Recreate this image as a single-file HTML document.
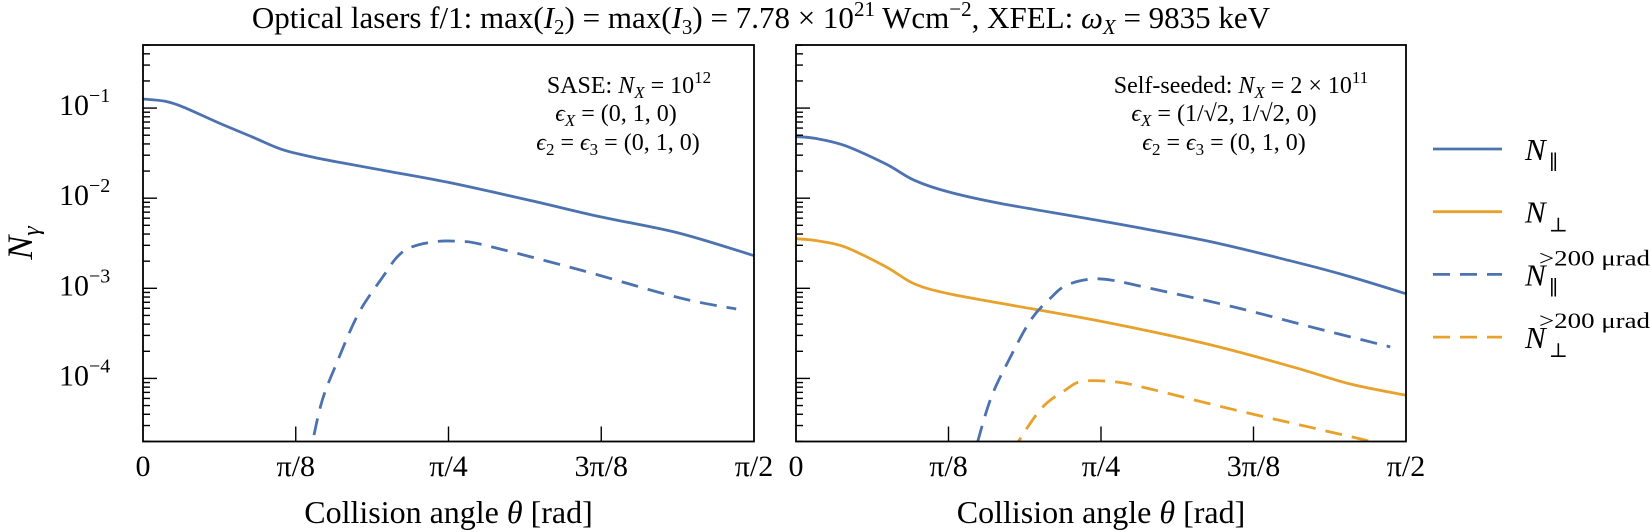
<!DOCTYPE html>
<html><head><meta charset="utf-8"><style>
html,body{margin:0;padding:0;background:#fff}
svg{display:block;font-family:"Liberation Serif","DejaVu Serif",serif}
.it{font-style:italic}
</style></head><body>
<svg id="chart" width="1651" height="532" viewBox="0 0 1651 532" xmlns="http://www.w3.org/2000/svg">
<text x="761" y="28" font-size="31" text-anchor="middle">Optical lasers f/1: max(<tspan class="it">I</tspan><tspan font-size="21" dy="6">2</tspan><tspan dy="-6">) = max(</tspan><tspan class="it">I</tspan><tspan font-size="21" dy="6">3</tspan><tspan dy="-6">) = 7.78 × 10</tspan><tspan font-size="21" dy="-12">21</tspan><tspan dy="12"> Wcm</tspan><tspan font-size="21" dy="-12">−2</tspan><tspan dy="12">, XFEL: </tspan><tspan class="it">ω</tspan><tspan class="it" font-size="21" dy="6">X</tspan><tspan dy="-6"> = 9835 keV</tspan></text>
<text transform="translate(32,243) rotate(-90)" font-size="36" text-anchor="middle"><tspan class="it">N</tspan><tspan class="it" font-size="24" dy="7">γ</tspan></text>
<g id="p1"></g>
<g id="p2"></g>
<g font-size="24" text-anchor="middle">
<text x="629" y="93">SASE: <tspan class="it">N</tspan><tspan class="it" font-size="17" dy="5">X</tspan><tspan dy="-5"> = 10</tspan><tspan font-size="17" dy="-10">12</tspan></text>
<text x="616" y="121"><tspan class="it">ϵ</tspan><tspan class="it" font-size="17" dy="5">X</tspan><tspan dy="-5"> = (0, 1, 0)</tspan></text>
<text x="618" y="150"><tspan class="it">ϵ</tspan><tspan font-size="17" dy="5">2</tspan><tspan dy="-5"> = </tspan><tspan class="it">ϵ</tspan><tspan font-size="17" dy="5">3</tspan><tspan dy="-5"> = (0, 1, 0)</tspan></text>
</g>
<g font-size="24" text-anchor="middle">
<text x="1241" y="93">Self-seeded: <tspan class="it">N</tspan><tspan class="it" font-size="17" dy="5">X</tspan><tspan dy="-5"> = 2 × 10</tspan><tspan font-size="17" dy="-10">11</tspan></text>
<text x="1224" y="121"><tspan class="it">ϵ</tspan><tspan class="it" font-size="17" dy="5">X</tspan><tspan dy="-5"> = (1/√2, 1/√2, 0)</tspan></text>
<text x="1224" y="150"><tspan class="it">ϵ</tspan><tspan font-size="17" dy="5">2</tspan><tspan dy="-5"> = </tspan><tspan class="it">ϵ</tspan><tspan font-size="17" dy="5">3</tspan><tspan dy="-5"> = (0, 1, 0)</tspan></text>
</g>
<g id="legend"></g>
</svg>
<script>
const BLUE = "#4c72b0", ORANGE = "#e8a12b";
const xTickLabels = ["0", "π/8", "π/4", "3π/8", "π/2"];
const yTickExps = [-1, -2, -3, -4];
// left panel (SASE)
const sasePar = { theta: [0,.057,.105,.193,.280,.355,.429,.504,.628,.784,1.002,1.177,1.378,1.571],
  value: [0.126,0.119,0.102,0.069,0.048,0.035,0.029,0.025,0.020,0.015,0.0093,0.0062,0.0041,0.0023] };
const saseParWide = { theta: [.425,.436,.461,.498,.554,.617,.654,.691,.754,.815,.878,1.128,1.376,1.525],
  value: [1.2e-5,2.0e-5,5.75e-5,1.48e-4,5.25e-4,1.35e-3,2.24e-3,2.88e-3,3.31e-3,3.31e-3,3.02e-3,1.58e-3,7.9e-4,5.9e-4] };
// right panel (self-seeded)
const ssPar = { theta: [0,.050,.126,.231,.305,.394,.529,.785,1.052,1.277,1.426,1.571],
  value: [0.0482,0.0461,0.0383,0.0240,0.0158,0.0117,0.0087,0.0056,0.0034,0.0020,0.00135,0.00087] };
const ssPerp = { theta: [0,.050,.126,.231,.305,.394,.529,.785,1.052,1.277,1.426,1.571],
  value: [0.00355,0.00339,0.00288,0.00174,0.00112,0.00087,0.00068,0.00043,0.000245,0.000135,8.7e-5,6.5e-5] };
const ssParWide = { theta: [.452,.462,.500,.544,.605,.657,.694,.754,.814,.903,1.128,1.351,1.530],
  value: [1.0e-5,1.6e-5,5.75e-5,1.48e-4,4.47e-4,7.9e-4,1.07e-3,1.26e-3,1.23e-3,1.02e-3,6.2e-4,3.5e-4,2.24e-4] };
const ssPerpWide = { theta: [.560,.573,.633,.693,.738,.828,.903,1.128,1.351,1.478,1.50],
  value: [1.5e-5,2.0e-5,4.7e-5,7.4e-5,9.3e-5,9.1e-5,7.8e-5,4.5e-5,2.7e-5,2.0e-5,1.8e-5] };

const NS = "http://www.w3.org/2000/svg";
function mk(tag, attrs, parent) { const e = document.createElementNS(NS, tag); for (const k in attrs) e.setAttribute(k, attrs[k]); parent.appendChild(e); return e; }
const TOP = 45, BOT = 441.5, LMIN = -4.70, LMAX = -0.30;
function yScale(v) { return TOP + (LMAX - Math.log10(v)) / (LMAX - LMIN) * (BOT - TOP); }
function smoothPath(pts) {
  let d = "M" + pts[0][0].toFixed(1) + "," + pts[0][1].toFixed(1);
  for (let i = 0; i < pts.length - 1; i++) {
    const p0 = pts[Math.max(0, i - 1)], p1 = pts[i], p2 = pts[i + 1], p3 = pts[Math.min(pts.length - 1, i + 2)];
    const c1 = [p1[0] + (p2[0] - p0[0]) / 6, p1[1] + (p2[1] - p0[1]) / 6];
    const c2 = [p2[0] - (p3[0] - p1[0]) / 6, p2[1] - (p3[1] - p1[1]) / 6];
    d += " C" + c1.map(v => v.toFixed(1)).join(",") + " " + c2.map(v => v.toFixed(1)).join(",") + " " + p2.map(v => v.toFixed(1)).join(",");
  }
  return d;
}

function panel(g, x0, x1, series, id) {
  const xs = t => x0 + t / (Math.PI / 2) * (x1 - x0);
  const clip = mk("clipPath", { id: "clip" + id }, g);
  mk("rect", { x: x0, y: TOP, width: x1 - x0, height: BOT - TOP }, clip);
  series.forEach(s => {
    const pts = s.data.theta.map((t, i) => [xs(t), yScale(s.data.value[i])]);
    const p = mk("path", { d: smoothPath(pts), fill: "none", stroke: s.color, "stroke-width": 2.8, "clip-path": "url(#clip" + id + ")", "stroke-dasharray": s.dash ? "17 10" : "none" }, g);
    
    
  });
  const frame = mk("rect", { x: x0, y: TOP, width: x1 - x0, height: BOT - TOP, fill: "none", stroke: "#000", "stroke-width": 1.8 }, g);
  
  
  xTickLabels.forEach((lab, i) => {
    const x = x0 + i / 4 * (x1 - x0);
    if (i > 0 && i < 4) mk("line", { x1: x, x2: x, y1: BOT, y2: BOT - 15, stroke: "#000", "stroke-width": 1.4 }, g);
    const t = mk("text", { x: x, y: 476, "font-size": 30, "text-anchor": "middle" }, g);
    t.textContent = lab;
    
    
  });
  const xt = mk("text", { x: (x0 + x1) / 2, y: 523, "font-size": 32, "text-anchor": "middle" }, g);
  xt.innerHTML = 'Collision angle <tspan class="it">θ</tspan> [rad]';
  
  
  for (let e = -5; e <= -1; e++) {
    for (let m = 1; m <= 9; m++) {
      const v = m * Math.pow(10, e), y = yScale(v);
      if (y < TOP || y > BOT) continue;
      mk("line", { x1: x0, x2: x0 + (m === 1 ? 14 : 7), y1: y, y2: y, stroke: "#000", "stroke-width": 1.4 }, g);
    }
  }
  if (id === 1) {
    yTickExps.forEach(e => {
      const t = mk("text", { x: 59, y: yScale(Math.pow(10, e)) + 7, "font-size": 30 }, g);
      t.innerHTML = '10<tspan font-size="20" dy="-13">−' + (-e) + '</tspan>';
      
      
    });
  }
}
panel(document.getElementById("p1"), 143, 754, [
  { data: sasePar, color: BLUE, dash: false, name: "sase-n-parallel-line" },
  { data: saseParWide, color: BLUE, dash: true, name: "sase-n-parallel-200urad-line" }], 1);
panel(document.getElementById("p2"), 796, 1406, [
  { data: ssPar, color: BLUE, dash: false, name: "ss-n-parallel-line" },
  { data: ssPerp, color: ORANGE, dash: false, name: "ss-n-perp-line" },
  { data: ssParWide, color: BLUE, dash: true, name: "ss-n-parallel-200urad-line" },
  { data: ssPerpWide, color: ORANGE, dash: true, name: "ss-n-perp-200urad-line" }], 2);

const lg = document.getElementById("legend");
const legendItems = [
  { color: BLUE, dash: false, sub: "∥", sup: "" },
  { color: ORANGE, dash: false, sub: "⊥", sup: "" },
  { color: BLUE, dash: true, sub: "∥", sup: ">200 μrad" },
  { color: ORANGE, dash: true, sub: "⊥", sup: ">200 μrad" }];
legendItems.forEach((it, i) => {
  const y = 149 + i * 62.7;
  const g = mk("g", {}, lg);
  
  
  mk("line", { x1: 1433, x2: 1502, y1: y, y2: y, stroke: it.color, "stroke-width": 2.8, "stroke-dasharray": it.dash ? "17 10" : "none" }, g);
  const n = mk("text", { x: 1525, y: y + 11, "font-size": 31 }, g);
  n.innerHTML = '<tspan class="it">N</tspan>';
  const sb = mk("text", { x: 1549, y: y + 20, "font-size": 20 }, g);
  sb.textContent = it.sub;
  if (it.sup) {
    const sp = mk("text", { x: 1539, y: y - 9, "font-size": 22, textLength: 111, lengthAdjust: "spacingAndGlyphs" }, g);
    sp.textContent = it.sup;
  }
});
</script>
</body></html>
